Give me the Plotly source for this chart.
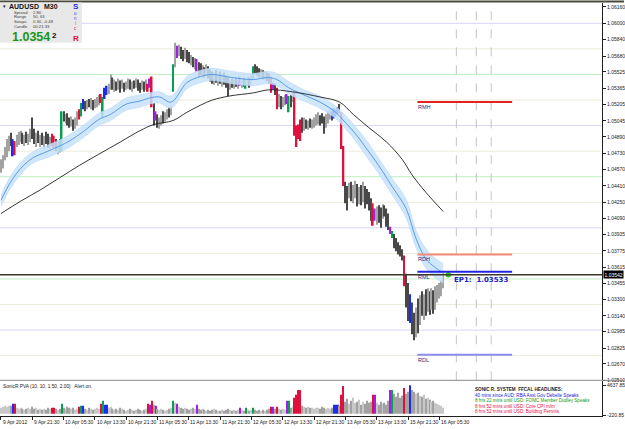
import plotly.graph_objects as go

W, H = 625, 429

# ---------------- data ----------------
bar_high = [
1.0467,1.0471,1.0479,1.0487,1.0490,1.0493,1.0487,1.0485,1.0491,1.0494,
1.0495,1.0493,1.0491,1.0494,1.0492,1.0497,1.0508,1.0497,1.0493,1.0495,
1.0491,1.0493,1.0490,1.0494,1.0492,1.0489,1.0492,1.0490,1.0487,1.0485,
1.0487,1.0514,1.0514,1.0511,1.0512,1.0508,1.0509,1.0506,1.0508,1.0514,
1.0516,1.0522,1.0526,1.0524,1.0525,1.0526,1.0527,1.0525,1.0526,1.0528,
1.0530,1.0531,1.0528,1.0537,1.0539,1.0541,1.0550,1.0547,1.0545,1.0543,
1.0546,1.0544,1.0545,1.0542,1.0543,1.0546,1.0545,1.0543,1.0544,1.0546,
1.0545,1.0542,1.0544,1.0543,1.0545,1.0541,1.0546,1.0548,1.0522,1.0514,
1.0511,1.0508,1.0510,1.0514,1.0513,1.0516,1.0518,1.0520,1.0560,1.0581,
1.0578,1.0579,1.0577,1.0574,1.0576,1.0574,1.0572,1.0569,1.0567,1.0566,
1.0565,1.0562,1.0561,1.0559,1.0557,1.0560,1.0558,1.0555,1.0553,1.0552,
1.0554,1.0551,1.0553,1.0550,1.0552,1.0549,1.0547,1.0545,1.0546,1.0545,
1.0547,1.0545,1.0548,1.0546,1.0547,1.0545,1.0548,1.0547,1.0549,1.0558,
1.0560,1.0558,1.0556,1.0555,1.0554,1.0553,1.0552,1.0551,1.0548,1.0542,
1.0541,1.0537,1.0531,1.0529,1.0528,1.0530,1.0531,1.0529,1.0530,1.0533,
1.0533,1.0500,1.0501,1.0506,1.0508,1.0508,1.0506,1.0505,1.0507,1.0506,
1.0508,1.0511,1.0513,1.0510,1.0512,1.0509,1.0511,1.0514,1.0516,1.0514,
1.0517,1.0516,1.0518,1.0521,1.0513,1.0480,1.0445,1.0441,1.0444,1.0445,
1.0442,1.0446,1.0443,1.0440,1.0442,1.0445,1.0441,1.0438,1.0435,1.0429,
1.0424,1.0419,1.0421,1.0422,1.0420,1.0423,1.0422,1.0419,1.0414,1.0401,
1.0397,1.0394,1.0390,1.0386,1.0383,1.0379,1.0373,1.0355,1.0346,1.0335,
1.0327,1.0317,1.0322,1.0331,1.0334,1.0338,1.0335,1.0340,1.0341,1.0338,
1.0341,1.0339,1.0343,1.0344,1.0346,1.0349,1.0356]

bar_low = [
1.0454,1.0458,1.0466,1.0469,1.0475,1.0480,1.0470,1.0471,1.0479,1.0481,
1.0484,1.0482,1.0480,1.0483,1.0481,1.0484,1.0487,1.0482,1.0479,1.0483,
1.0479,1.0481,1.0477,1.0482,1.0478,1.0477,1.0480,1.0478,1.0475,1.0472,
1.0474,1.0475,1.0504,1.0502,1.0500,1.0498,1.0499,1.0495,1.0497,1.0500,
1.0506,1.0509,1.0516,1.0514,1.0516,1.0518,1.0516,1.0515,1.0517,1.0518,
1.0520,1.0522,1.0508,1.0526,1.0530,1.0531,1.0535,1.0535,1.0533,1.0534,
1.0535,1.0532,1.0536,1.0533,1.0535,1.0536,1.0535,1.0533,1.0536,1.0537,
1.0534,1.0532,1.0535,1.0533,1.0535,1.0533,1.0537,1.0518,1.0500,1.0505,
1.0498,1.0497,1.0500,1.0502,1.0504,1.0506,1.0508,1.0510,1.0533,1.0557,
1.0566,1.0568,1.0565,1.0563,1.0565,1.0562,1.0561,1.0559,1.0557,1.0555,
1.0553,1.0547,1.0549,1.0549,1.0547,1.0548,1.0546,1.0543,1.0541,1.0540,
1.0542,1.0539,1.0541,1.0538,1.0540,1.0537,1.0529,1.0535,1.0537,1.0536,
1.0538,1.0536,1.0539,1.0537,1.0538,1.0536,1.0539,1.0537,1.0540,1.0545,
1.0551,1.0549,1.0547,1.0546,1.0545,1.0544,1.0543,1.0541,1.0532,1.0535,
1.0530,1.0516,1.0518,1.0516,1.0518,1.0520,1.0521,1.0513,1.0518,1.0523,
1.0490,1.0479,1.0487,1.0485,1.0493,1.0495,1.0497,1.0496,1.0498,1.0497,
1.0498,1.0500,1.0501,1.0500,1.0502,1.0492,1.0498,1.0502,1.0506,1.0505,
1.0507,1.0509,1.0511,1.0512,1.0477,1.0441,1.0424,1.0417,1.0429,1.0426,
1.0424,1.0429,1.0421,1.0423,1.0422,1.0425,1.0419,1.0423,1.0417,1.0407,
1.0402,1.0407,1.0403,1.0405,1.0400,1.0409,1.0411,1.0401,1.0398,1.0394,
1.0390,1.0380,1.0377,1.0374,1.0372,1.0368,1.0343,1.0322,1.0309,1.0307,
1.0296,1.0290,1.0293,1.0297,1.0305,1.0314,1.0310,1.0314,1.0318,1.0315,
1.0320,1.0316,1.0320,1.0327,1.0331,1.0333,1.0341]

bar_close = [
1.0463,1.0469,1.0477,1.0482,1.0487,1.0484,1.0472,1.0483,1.0487,1.0489,
1.0492,1.0487,1.0489,1.0485,1.0490,1.0494,1.0492,1.0487,1.0489,1.0484,
1.0487,1.0482,1.0488,1.0485,1.0481,1.0487,1.0482,1.0486,1.0477,1.0480,
1.0476,1.0513,1.0508,1.0509,1.0505,1.0502,1.0506,1.0499,1.0504,1.0512,
1.0508,1.0521,1.0524,1.0518,1.0522,1.0520,1.0524,1.0517,1.0523,1.0525,
1.0527,1.0523,1.0527,1.0535,1.0537,1.0539,1.0543,1.0540,1.0542,1.0537,
1.0541,1.0539,1.0542,1.0537,1.0540,1.0543,1.0538,1.0541,1.0539,1.0543,
1.0540,1.0537,1.0541,1.0536,1.0542,1.0535,1.0544,1.0521,1.0514,1.0508,
1.0501,1.0504,1.0508,1.0506,1.0511,1.0514,1.0512,1.0518,1.0558,1.0574,
1.0568,1.0576,1.0574,1.0566,1.0572,1.0569,1.0565,1.0566,1.0560,1.0563,
1.0557,1.0555,1.0553,1.0557,1.0551,1.0555,1.0552,1.0550,1.0547,1.0549,
1.0545,1.0547,1.0543,1.0548,1.0545,1.0542,1.0540,1.0543,1.0539,1.0542,
1.0540,1.0543,1.0541,1.0544,1.0541,1.0542,1.0546,1.0543,1.0547,1.0557,
1.0555,1.0553,1.0551,1.0553,1.0549,1.0551,1.0547,1.0546,1.0534,1.0539,
1.0532,1.0518,1.0526,1.0522,1.0524,1.0526,1.0523,1.0527,1.0526,1.0531,
1.0494,1.0494,1.0490,1.0502,1.0500,1.0503,1.0501,1.0503,1.0500,1.0504,
1.0505,1.0507,1.0510,1.0508,1.0506,1.0505,1.0508,1.0512,1.0513,1.0510,
1.0514,1.0514,1.0516,1.0513,1.0479,1.0444,1.0438,1.0436,1.0440,1.0432,
1.0436,1.0440,1.0431,1.0436,1.0429,1.0440,1.0433,1.0431,1.0427,1.0419,
1.0405,1.0415,1.0417,1.0413,1.0411,1.0419,1.0417,1.0404,1.0401,1.0396,
1.0393,1.0385,1.0382,1.0380,1.0376,1.0372,1.0346,1.0331,1.0327,1.0326,
1.0312,1.0297,1.0314,1.0307,1.0331,1.0320,1.0331,1.0319,1.0333,1.0322,
1.0336,1.0326,1.0337,1.0339,1.0343,1.0345,1.03542]

# PVA colour codes of the special candles (all others are normal grey)
pva_marks = {6:'b',7:'r',26:'r',27:'r',31:'g',40:'r',41:'g',42:'b',51:'r',52:'g',
             53:'b',54:'b',75:'r',76:'m',77:'r',79:'m',88:'g',90:'m',100:'m',122:'m',
             125:'g',129:'g',138:'r',139:'m',141:'r',146:'m',147:'g',150:'r',151:'r',
             152:'r',153:'r',170:'b',171:'b',172:'b',174:'r',175:'r',190:'r',191:'m',
             199:'m',200:'g',206:'r',209:'b'}

volume = [
972,1134,1296,1134,1296,1296,1620,1620,972,810,
972,810,648,810,972,810,1134,810,972,648,
810,648,810,648,972,810,972,972,810,648,
810,1620,972,810,1134,972,810,972,648,810,
1134,1296,1296,810,648,972,810,648,810,972,
810,1620,2106,1458,1458,972,1134,810,648,810,
648,972,810,648,486,648,810,648,486,648,
810,648,486,648,810,1620,1458,2106,1458,1296,
810,648,810,648,486,648,810,972,2106,1782,
1620,1134,972,810,972,810,648,810,972,810,
1458,810,648,810,648,486,648,486,648,810,
648,486,486,648,486,648,810,648,486,648,
486,648,972,648,486,972,648,486,648,972,
648,486,648,486,648,486,648,810,1134,1134,
810,1134,810,648,810,648,2106,2106,972,1134,
2592,3078,3888,3888,1296,1134,972,1134,972,972,
810,972,972,810,1134,972,810,972,810,972,
1458,1458,1458,1296,3078,4536,1944,2430,1620,2106,
2592,1782,1944,2268,1458,1944,1620,2106,1782,1944,
3078,3078,1782,1458,1944,1620,1782,1458,2106,3888,
3888,3240,2754,3402,2592,2916,4212,3240,3564,4637.85,
3888,3564,3240,3402,2916,2754,3078,2430,2592,2268,
1944,2106,1782,1620,1458,1296,972]

# moving averages (read at knots along the bar axis)
ma_bars  = [0,5,10,16,24,30,35,42,50,56,64,71,76,81,87,95,102,108,118,129,136,141,147,156,
            163,171,176,182,187,193,200,207,212,217,222,226]
band_mid = [1.0427,1.0445,1.0458,1.0468,1.0475,1.0480,1.0485,1.0494,1.0506,1.0511,1.0521,1.0524,
            1.0527,1.0528,1.0523,1.0542,1.0548,1.0550,1.0547,1.0545,1.0547,1.0545,1.0537,1.0529,
            1.0523,1.0513,1.0503,1.0490,1.0477,1.0461,1.0440,1.0419,1.0390,1.0370,1.0361,1.0356]
band_up  = [1.0432,1.0451,1.0464,1.0474,1.0481,1.0486,1.0491,1.0500,1.0512,1.0517,1.0527,1.0530,
            1.0532,1.0533,1.0529,1.0548,1.0554,1.0556,1.0553,1.0551,1.0553,1.0551,1.0543,1.0534,
            1.0529,1.0519,1.0510,1.0497,1.0485,1.0468,1.0448,1.0428,1.0398,1.0380,1.0370,1.0365]
band_lo  = [1.0421,1.0439,1.0452,1.0463,1.0469,1.0474,1.0479,1.0488,1.0500,1.0505,1.0515,1.0518,
            1.0521,1.0522,1.0517,1.0536,1.0542,1.0544,1.0541,1.0539,1.0541,1.0539,1.0531,1.0523,
            1.0517,1.0507,1.0497,1.0483,1.0469,1.0453,1.0432,1.0410,1.0381,1.0361,1.0351,1.0346]
slow_bars = [0,10,20,30,40,50,61,71,78,88,95,102,108,117,129,137,149,163,173,180,188,197,205,210,217,226]
slow_ma   = [1.0414,1.0426,1.0437,1.0449,1.0461,1.0472,1.0484,1.0495,1.0501,1.0505,1.0513,1.0520,
             1.0525,1.0529,1.0532,1.0535,1.0533,1.0528,1.0523,1.0511,1.0498,1.0484,1.0467,1.0452,
             1.0435,1.0416]

pivot_levels = [1.0600,1.0575,1.0550,1.0525,1.0500,1.0475,1.0450,1.0425,1.0400,1.0375,
                1.0350,1.0325,1.0300,1.0275]
range_names  = ["RMH", "RDH", "RML", "RDL"]
range_levels = [1.0523, 1.0374, 1.0357, 1.0276]
range_start, range_end = 212.8, 261.2
event_bars = [232.7, 242.9, 250.5]
bid_price = 1.03542
ep1_price = 1.03533
ep1_bar = 228.6

price_ticks = [1.06160,1.06000,1.05840,1.05680,1.05525,1.05365,1.05205,1.05045,1.04890,1.04730,
               1.04570,1.04410,1.04250,1.04090,1.03935,1.03775,1.03615,1.03455,1.03300,1.03140,
               1.02985,1.02825,1.02670,1.02510]
time_labels = ["9 Apr 2012","9 Apr 21:30","10 Apr 05:30","10 Apr 13:30","10 Apr 21:30",
               "11 Apr 05:30","11 Apr 13:30","11 Apr 21:30","12 Apr 05:30","12 Apr 13:30",
               "12 Apr 21:30","13 Apr 05:30","13 Apr 13:30","15 Apr 21:30","16 Apr 05:30"]
vol_ticks = [4637.85, -220.85]

headlines = ["SONIC R. SYSTEM  FFCAL HEADLINES:",
             "40 mins since AUD: RBA Asst Gov Debelle Speaks",
             "8 hrs 22 mins until USD: FOMC Member Dudley Speaks",
             "8 hrs 52 mins until USD: Core CPI m/m",
             "8 hrs 52 mins until USD: Building Permits"]
headline_colors = ["#222222", "#1a1ad8", "#109a10", "#e0103c", "#e0103c"]
info_rows = [("Spread", "2.80"), ("Range", "50, 63"), ("Swaps", "0.30, -0.48"), ("Candle", "00:21:33")]

# ---------------- helpers ----------------
def pyp(px):
    return 1 - px / H

def pxp(px):
    return px / W

R = 603 / W
FONT = "Liberation Sans"
n = len(bar_close)
idx = list(range(n))
opens = [bar_close[0]] + bar_close[:-1]
pal = {'r': '#e0103c', 'g': '#08a050', 'b': '#1a2cf0', 'm': '#a020e8'}

price_cols, price_w, vol_cols = [], [], []
for i in idx:
    k = pva_marks.get(i, 'n')
    up = bar_close[i] >= opens[i]
    if k == 'n':
        price_cols.append('#a2a2a2' if up else '#484848')
        vol_cols.append('#c8c8c8' if up else '#a2a2a2')
        price_w.append(0.55)
    else:
        price_cols.append(pal[k])
        vol_cols.append(pal[k])
        price_w.append(0.85)

fig = go.Figure()

# EMA band
fig.add_trace(go.Scatter(x=ma_bars, y=band_lo, mode='lines', line=dict(color='#b8d8f6', width=0.6, shape='spline'),
                         hoverinfo='skip', showlegend=False))
fig.add_trace(go.Scatter(x=ma_bars, y=band_up, mode='lines', line=dict(color='#b8d8f6', width=0.6, shape='spline'),
                         fill='tonexty', fillcolor='rgba(200,226,250,0.85)', hoverinfo='skip', showlegend=False))
fig.add_trace(go.Scatter(x=ma_bars, y=band_mid, mode='lines', line=dict(color='#4a94e2', width=0.9, shape='spline'),
                         hoverinfo='skip', showlegend=False))
fig.add_trace(go.Scatter(x=slow_bars, y=slow_ma, mode='lines', line=dict(color='#1e1e1e', width=0.9, shape='spline'),
                         hoverinfo='skip', showlegend=False))

# price bars (high-low)
fig.add_trace(go.Bar(x=idx, y=[h - l for h, l in zip(bar_high, bar_low)], base=bar_low,
                     marker=dict(color=price_cols, line=dict(width=0)), width=price_w,
                     showlegend=False, hoverinfo='skip'))

# EP1 dot
fig.add_trace(go.Scatter(x=[ep1_bar], y=[bid_price], mode='markers',
                         marker=dict(color='#22dd22', size=5, line=dict(color='#119911', width=0.5)),
                         showlegend=False, hoverinfo='skip'))

# volume pane
fig.add_trace(go.Bar(x=idx, y=volume, marker=dict(color=vol_cols, line=dict(width=0)), width=0.55,
                     xaxis='x2', yaxis='y2', showlegend=False, hoverinfo='skip'))

shapes = []
for lv in pivot_levels:
    cents = round(lv * 10000) % 100
    if cents == 0:
        col = '#d6d6f6'
    elif cents == 50:
        col = '#bfeebf'
    else:
        col = '#ececda'
    shapes.append(dict(type='line', xref='x domain', yref='y', x0=0, x1=1, y0=lv, y1=lv,
                       line=dict(color=col, width=1), layer='below'))
for eb in event_bars:
    shapes.append(dict(type='line', xref='x', yref='y domain', x0=eb, x1=eb, y0=0, y1=1,
                       line=dict(color='#c4c4c4', width=1, dash='dash'), layer='below'))
range_cols = ['#e42020', '#f58a78', '#2424e6', '#8c8cf0']
for lv, col in zip(range_levels, range_cols):
    shapes.append(dict(type='line', xref='x', yref='y', x0=range_start, x1=range_end, y0=lv, y1=lv,
                       line=dict(color=col, width=2)))
# bid line
shapes.append(dict(type='line', xref='x domain', yref='y', x0=0, x1=1, y0=bid_price, y1=bid_price,
                   line=dict(color='#3a3a2a', width=1.5)))
# frame lines
shapes.append(dict(type='line', xref='paper', yref='paper', x0=0, x1=1, y0=pyp(1.5), y1=pyp(1.5),
                   line=dict(color='#4a4a3a', width=2)))
shapes.append(dict(type='line', xref='paper', yref='paper', x0=0, x1=1, y0=pyp(383), y1=pyp(383),
                   line=dict(color='#8a8a8a', width=1)))
# info panel
shapes.append(dict(type='rect', xref='paper', yref='paper', x0=0, x1=pxp(82), y0=pyp(43), y1=pyp(2.5),
                   fillcolor='#e8e8e8', line=dict(width=0)))

ann = []
def txt(x, y, s, size=5, color='#202020', bold=False, xanchor='left', family=FONT, **kw):
    t = f"<b>{s}</b>" if bold else s
    d = dict(x=x, y=y, text=t, showarrow=False, xanchor=xanchor, yanchor='middle', borderpad=0,
             font=dict(size=size, color=color, family=family))
    d.update(kw)
    ann.append(d)

# range labels
for name, lv in zip(range_names, range_levels):
    txt(range_start, lv, name, size=5.5, color='#2a2a80', xref='x', yref='y', yshift=-5)
# EP1
txt(231.2, ep1_price, "EP1:  1.03533", size=7, color='#1c1ccc', bold=True, xref='x', yref='y',
    yshift=-4, family='DejaVu Sans')
# bid box
ann.append(dict(x=R + 0.0015, y=bid_price, xref='paper', yref='y', text='1.03542', showarrow=False,
                xanchor='left', yanchor='middle', bgcolor='#000000', borderpad=0.5,
                font=dict(size=5, color='#ffffff', family=FONT)))
# time labels
for k, lab in enumerate(time_labels):
    txt(16 * k + 0.3, pyp(425), lab, size=5, color='#202020', xref='x2', yref='paper')
# indicator title
txt(pxp(2), pyp(389), "SonicR PVA (10, 10, 1.50, 2.00)   Alert on.", size=4.8, xref='paper', yref='paper')
# headlines
for j, (h, c) in enumerate(zip(headlines, headline_colors)):
    txt(pxp(475), pyp(392.5 + 5.6 * j), h, size=4.6, color=c, bold=(j == 0), xref='paper', yref='paper')
# info panel
txt(pxp(1.5), pyp(7), "▼", size=4.5, xref='paper', yref='paper')
txt(pxp(8), pyp(7), "AUDUSD", size=7, bold=True, color='#111111', xref='paper', yref='paper')
txt(pxp(43), pyp(7), "M30", size=7, bold=True, color='#111111', xref='paper', yref='paper')
for j, (a, b) in enumerate(info_rows):
    txt(pxp(13), pyp(12.5 + 4.6 * j), a, size=4.2, color='#404040', xref='paper', yref='paper')
    txt(pxp(32), pyp(12.5 + 4.6 * j), b, size=4.2, color='#404040', xref='paper', yref='paper')
txt(pxp(11), pyp(37.5), "1.0354", size=12.5, bold=True, color='#1a961a', xref='paper', yref='paper')
txt(pxp(51.5), pyp(35.5), "2", size=8, bold=True, color='#111111', xref='paper', yref='paper')
txt(pxp(76), pyp(7), "S", size=8, bold=True, color='#2030e0', xanchor='center', xref='paper', yref='paper')
for j, (ch, c) in enumerate([("o", '#3040e0'), ("n", '#7040d0'), ("i", '#e04090'), ("c", '#e02050')]):
    txt(pxp(76), pyp(14 + 4.8 * j), ch, size=4.5, color=c, xanchor='center', xref='paper', yref='paper')
txt(pxp(76), pyp(38.5), "R", size=8, bold=True, color='#e0103c', xanchor='center', xref='paper', yref='paper')

axis_font = dict(size=5, color='#202020', family=FONT)
fig.update_layout(
    width=W, height=H, margin=dict(l=0, r=0, t=0, b=0),
    paper_bgcolor='white', plot_bgcolor='white', barmode='overlay', showlegend=False,
    xaxis=dict(domain=[0, R], range=[-0.5, 307.15], visible=False, anchor='y'),
    yaxis=dict(domain=[pyp(383), pyp(3)], range=[1.02509, 1.06199], side='right', anchor='x',
               tickvals=price_ticks, ticktext=[f"{v:.5f}" for v in price_ticks],
               ticks='outside', ticklen=3, tickcolor='#202020', showline=True, linecolor='#202020',
               linewidth=1, showgrid=False, zeroline=False, tickfont=axis_font),
    xaxis2=dict(domain=[0, R], matches='x', anchor='y2', tickvals=[16 * k for k in range(len(time_labels))],
                ticktext=[''] * len(time_labels), ticks='outside', ticklen=3, tickcolor='#202020',
                showline=True, linecolor='#202020', linewidth=1, showgrid=False, zeroline=False),
    yaxis2=dict(domain=[pyp(419), pyp(384)], range=[-382.8, 5285.7], side='right', anchor='x2',
                tickvals=vol_ticks, ticktext=["4637.85", "-220.85"], ticks='outside', ticklen=3,
                tickcolor='#202020', showline=True, linecolor='#202020', linewidth=1,
                showgrid=False, zeroline=False, tickfont=axis_font),
    shapes=shapes, annotations=ann,
)

fig.write_html("out.html")
